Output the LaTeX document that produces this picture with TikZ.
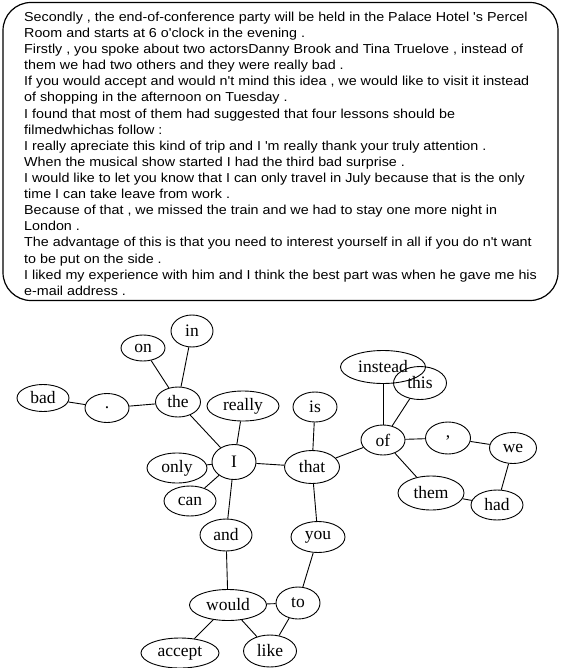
\documentclass[tikz,border=0pt]{standalone}
\usepackage{fontspec}
\setmainfont{Liberation Serif}
\newfontfamily\boxfont[FakeStretch=1.1]{Liberation Sans}
\usetikzlibrary{shapes.geometric}
\begin{document}
\begin{tikzpicture}[x=1pt,y=-1pt,
  word/.style={draw, ellipse, inner sep=0pt, line width=0.9pt,
    font=\fontsize{17.5}{17.5}\selectfont},
  txt/.style={anchor=base west, inner sep=0pt,
    font=\boxfont\fontsize{13}{15}\selectfont},
  edge/.style={line width=0.9pt}
]
\useasboundingbox (0,0) rectangle (562,668);
% text box
\node (box) [draw, line width=1.2pt, rounded corners=28pt, minimum width=555pt,
  minimum height=298pt, inner sep=0pt] at (280.5,151.5) {};
\node[txt] (t1) at (24,21.5) {Secondly , the end-of-conference party will be held in the Palace Hotel 's Percel};
\node[txt] (t2) at (24,37.6) {Room and starts at 6 o'clock in the evening .};
\node[txt] (t3) at (24,53.7) {Firstly , you spoke about two actorsDanny Brook and Tina Truelove , instead of};
\node[txt] (t4) at (24,69.8) {them we had two others and they were really bad .};
\node[txt] (t5) at (24,85.9) {If you would accept and would n't mind this idea , we would like to visit it instead};
\node[txt] (t6) at (24,102.0) {of shopping in the afternoon on Tuesday .};
\node[txt] (t7) at (24,118.1) {I found that most of them had suggested that four lessons should be};
\node[txt] (t8) at (24,134.2) {filmedwhichas follow :};
\node[txt] (t9) at (24,150.3) {I really apreciate this kind of trip and I 'm really thank your truly attention .};
\node[txt] (t10) at (24,166.4) {When the musical show started I had the third bad surprise .};
\node[txt] (t11) at (24,182.5) {I would like to let you know that I can only travel in July because that is the only};
\node[txt] (t12) at (24,198.6) {time I can take leave from work .};
\node[txt] (t13) at (24,214.7) {Because of that , we missed the train and we had to stay one more night in};
\node[txt] (t14) at (24,230.8) {London .};
\node[txt] (t15) at (24,246.9) {The advantage of this is that you need to interest yourself in all if you do n't want};
\node[txt] (t16) at (24,263.0) {to be put on the side .};
\node[txt] (t17) at (24,279.1) {I liked my experience with him and I think the best part was when he gave me his};
\node[txt] (t18) at (24,295.2) {e-mail address .};
% graph nodes
\node[word, minimum width=52pt, minimum height=27pt] (bad) at (43,398) {bad};
\node[word, minimum width=44pt, minimum height=29pt] (dot) at (107,408) {.};
\node[word, minimum width=45pt, minimum height=30pt] (the) at (178,402) {the};
\node[word, minimum width=44pt, minimum height=26pt] (on) at (143,348) {on};
\node[word, minimum width=42pt, minimum height=32pt] (in) at (192,331) {in};
\node[word, minimum width=72pt, minimum height=30pt] (really) at (243,406) {really};
\node[word, minimum width=44pt, minimum height=35pt] (I) at (234,462) {I};
\node[word, minimum width=60pt, minimum height=30pt] (only) at (177,468) {only};
\node[word, minimum width=52pt, minimum height=30pt] (can) at (190,501) {can};
\node[word, minimum width=52pt, minimum height=32pt] (and) at (226,535) {and};
\node[word, minimum width=77pt, minimum height=31pt] (would) at (228,605) {would};
\node[word, minimum width=78pt, minimum height=30pt] (accept) at (180,653) {accept};
\node[word, minimum width=53pt, minimum height=32pt] (like) at (270,651) {like};
\node[word, minimum width=44pt, minimum height=32pt] (to) at (298,603) {to};
\node[word, minimum width=54pt, minimum height=31pt] (you) at (318,537) {you};
\node[word, minimum width=44pt, minimum height=30pt] (is) at (315,407) {is};
\node[word, minimum width=55pt, minimum height=33pt] (that) at (312,467) {that};
\node[word, minimum width=44pt, minimum height=30pt] (of) at (383,440) {of};
\node[word, minimum width=85pt, minimum height=33pt] (instead) at (383,367) {instead};
\node[word, minimum width=53pt, minimum height=33pt] (this) at (420,383) {this};
\node[word, minimum width=45pt, minimum height=32pt] (comma) at (448,438) {,};
\node[word, minimum width=47pt, minimum height=31pt] (we) at (513,448) {we};
\node[word, minimum width=66pt, minimum height=34pt] (them) at (431,493) {them};
\node[word, minimum width=52pt, minimum height=30pt] (had) at (497,505) {had};
% edges
\draw[edge] (bad) -- (dot);
\draw[edge] (dot) -- (the);
\draw[edge] (the) -- (on);
\draw[edge] (the) -- (in);
\draw[edge] (the) -- (I);
\draw[edge] (really) -- (I);
\draw[edge] (only) -- (I);
\draw[edge] (can) -- (I);
\draw[edge] (I) -- (and);
\draw[edge] (I) -- (that);
\draw[edge] (is) -- (that);
\draw[edge] (that) -- (of);
\draw[edge] (that) -- (you);
\draw[edge] (of) -- (instead);
\draw[edge] (of) -- (this);
\draw[edge] (of) -- (comma);
\draw[edge] (of) -- (them);
\draw[edge] (comma) -- (we);
\draw[edge] (we) -- (had);
\draw[edge] (them) -- (had);
\draw[edge] (and) -- (would);
\draw[edge] (would) -- (accept);
\draw[edge] (would) -- (like);
\draw[edge] (would) -- (to);
\draw[edge] (to) -- (like);
\draw[edge] (you) -- (to);
\end{tikzpicture}
\end{document}
